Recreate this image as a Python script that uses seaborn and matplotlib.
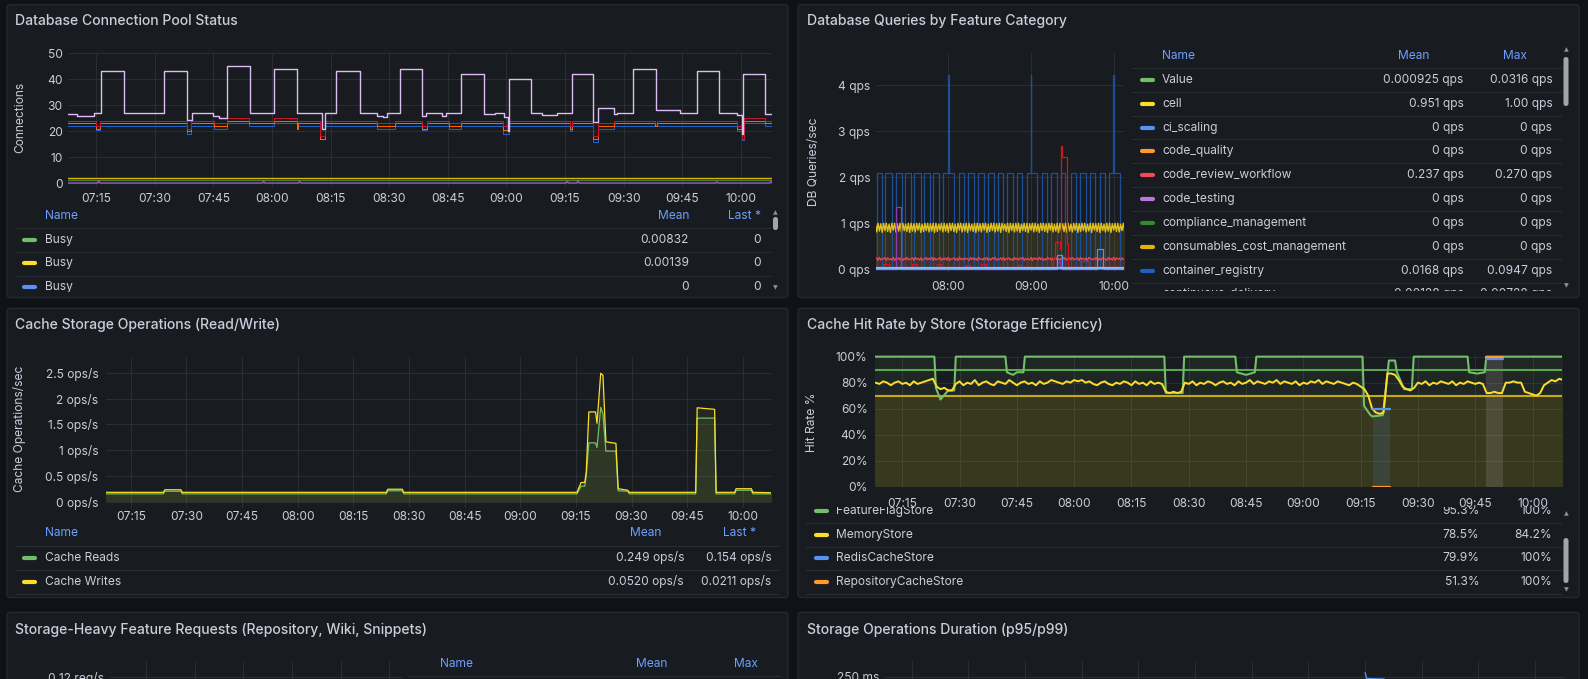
import matplotlib
matplotlib.use("Agg")
import matplotlib.pyplot as plt
import matplotlib.transforms as mtransforms
from matplotlib.patches import FancyBboxPatch
from matplotlib.lines import Line2D
from matplotlib.transforms import Bbox
import numpy as np
import seaborn as sns

W, H = 1588, 679

sns.set_theme(style="dark")
plt.rcParams['font.family'] = ['Inter', 'DejaVu Sans']

BG = "#111217"
PANEL = "#181b1f"
BORDER = "#26282d"
GRID_C = "#2a2d32"
TEXT_C = "#ccccdc"
HEAD_C = "#6e9fff"
SEP_C = "#2b2e33"
FS = 8.64
TITLE_FS = 10.1

# all times are minutes after 07:00
TICKS_15 = ["07:15", "07:30", "07:45", "08:00", "08:15", "08:30", "08:45",
            "09:00", "09:15", "09:30", "09:45", "10:00"]
TICKS_30 = ["07:30", "08:00", "08:30", "09:00", "09:30", "10:00"]
TICKS_60 = ["08:00", "09:00", "10:00"]

# ---- Database Connection Pool Status ----
pool_top_t = [7, 10, 14.5, 16.3, 22.2, 32.5, 38.3, 39.6, 45, 46.5, 48.5, 54.3, 60.5, 66.5, 72.9,
              73.5, 76.4, 82.5, 86.8, 88.5, 89.5, 92.7, 98.3, 99.5, 103.5, 104.5, 108.5, 114.4, 117,
              119.3, 120.3, 120.6, 126.4, 129, 133, 136.7, 142.1, 143.5, 147.5, 148.3, 152.3, 158.4,
              164.5, 168.7, 174.3, 179, 180.2, 180.6, 186.1, 189]
pool_top_v = [26.5, 26, 27, 43, 27, 43, 24.5, 27, 26, 25, 45, 27, 44, 27, 21,
              27, 43, 27, 26, 25.5, 27, 44, 26, 27, 26, 27, 42, 26.5, 27,
              25.5, 20, 40, 27, 26.3, 27, 42, 23.5, 29, 26.5, 27, 44, 28.3,
              27, 43, 27, 26.3, 19, 42, 26.5, 26.5]
pool_t = [7, 15.1, 16.1, 38.3, 39.3, 45.3, 48.5, 54.1, 60.5, 66.3, 66.7, 72.4, 73.7, 86.9, 91.6,
          98.3, 99.7, 105.3, 108.5, 119.1, 120.6, 136.2, 136.8, 142.1, 143.5, 147.5, 158.1, 158.6,
          179.1, 180.4, 180.8, 186.1, 189]
pool_red = [24, 22, 24, 21, 24, 23, 25, 24, 25, 24, 24, 18, 24, 23, 24,
            22, 24, 23, 24, 22, 24, 22, 24, 18, 23, 24, 23, 24,
            22, 17, 25, 24, 24]
pool_orange = [23, 21, 23, 20, 23, 22, 24, 23, 24, 21, 23, 17, 23, 22, 23,
               21, 23, 22, 23, 20.5, 23, 21, 23, 17, 22, 23, 22, 23,
               21, 17, 24, 23, 23]
pool_blue = [22, 20.5, 22, 19, 22, 21, 23, 22, 23, 21.5, 22, 17, 22, 21, 22,
             20.5, 22, 21, 22, 19, 22, 20, 22, 16, 21, 22, 22, 22,
             20, 16.5, 23, 22, 22]
pool_flat_t = [7, 189]
pool_yellow = [1.9, 1.9]
pool_green = [1.2, 1.2]
pool_zero_t = [7, 15.4, 15.7, 16.0, 57.6, 57.9, 58.2, 66.8, 67.1, 67.4, 135.3, 135.6, 135.9,
               138.0, 138.3, 138.6, 173.5, 173.8, 174.1, 187.4, 187.7, 188.0, 189]
pool_zero_v = [0.1, 0.1, 1.0, 0.1, 0.1, 0.8, 0.1, 0.1, 0.8, 0.1, 0.1, 0.8, 0.1,
               0.1, 0.9, 0.1, 0.1, 0.6, 0.1, 0.1, 0.8, 0.1, 0.1]
pool_names = ["Busy", "Busy", "Busy"]
pool_mean = ["0.00832", "0.00139", "0"]
pool_last = ["0", "0", "0"]
pool_colors = ["#73bf69", "#fade2a", "#5794f2"]

# ---- Database Queries by Feature Category ----
q_on = [7.9, 14.4, 21.7, 28.5, 35.3, 42.6, 49.1, 56.4, 67.8, 74.6, 81.8, 89.1, 95.9, 102.4,
        109.7, 117.0, 127.9, 134.4, 141.7, 149.0, 155.3, 163.0, 170.3, 176.4]
q_off = [12.0, 18.8, 26.1, 32.9, 39.9, 46.7, 53.2, 64.1, 71.4, 78.9, 86.2, 92.8, 100.0, 106.6,
         113.8, 124.3, 131.5, 138.8, 144.9, 152.9, 159.7, 166.7, 174.0, 184.9]
q_high = 2.1
q_spike_t = [60, 120, 180]
q_spike_v = [4.21, 4.21, 4.21]
# one sample per minute from 07:07
q_cell = [1.0, 0.81, 1.0, 0.83, 0.99, 0.8, 1.0, 0.84, 1.0, 0.82, 0.98, 0.8, 1.0, 0.85, 1.0, 0.81, 0.99, 0.83, 1.0, 0.8,
          1.0, 0.84, 0.98, 0.82, 1.0, 0.8, 1.0, 0.83, 0.99, 0.81, 1.0, 0.85, 1.0, 0.8, 0.98, 0.82, 1.0, 0.84, 1.0, 0.81,
          0.99, 0.83, 1.0, 0.8, 1.0, 0.82, 0.98, 0.85, 1.0, 0.81, 1.0, 0.83, 0.99, 0.8, 1.0, 0.84, 1.0, 0.82, 0.98, 0.8,
          1.0, 0.85, 1.0, 0.81, 0.99, 0.83, 1.0, 0.8, 1.0, 0.84, 0.98, 0.82, 1.0, 0.8, 1.0, 0.83, 0.99, 0.81, 1.0, 0.85,
          1.0, 0.8, 0.98, 0.82, 1.0, 0.84, 1.0, 0.81, 0.99, 0.83, 1.0, 0.8, 1.0, 0.85, 0.98, 0.82, 1.0, 0.8, 1.0, 0.84,
          0.99, 0.81, 1.0, 0.83, 1.0, 0.8, 0.98, 0.84, 1.0, 0.82, 1.0, 0.8, 0.99, 0.85, 1.0, 0.81, 1.0, 0.83, 0.98, 0.8,
          1.0, 0.84, 1.0, 0.82, 0.99, 0.8, 1.0, 0.85, 1.0, 0.81, 0.98, 0.83, 1.0, 0.8, 1.0, 0.84, 0.99, 0.82, 1.0, 0.8,
          1.0, 0.83, 0.98, 0.81, 1.0, 0.85, 1.0, 0.8, 0.99, 0.82, 1.0, 0.84, 1.0, 0.81, 0.98, 0.83, 1.0, 0.8, 1.0, 0.85,
          0.99, 0.82, 1.0, 0.8, 1.0, 0.84, 0.98, 0.81, 1.0, 0.83, 1.0, 0.8, 0.99, 0.85, 1.0, 0.82, 1.0, 0.81, 0.98, 0.84,
          1.0, 0.8, 1.0]
q_review = [0.21, 0.25, 0.19, 0.26, 0.2, 0.24, 0.22, 0.26, 0.19, 0.25, 0.21, 0.23, 0.2, 0.26, 0.19, 0.24, 0.22, 0.25, 0.2, 0.26,
            0.19, 0.24, 0.21, 0.26, 0.2, 0.23, 0.22, 0.25, 0.19, 0.26, 0.21, 0.24, 0.2, 0.25, 0.19, 0.23, 0.22, 0.26, 0.2, 0.24,
            0.21, 0.26, 0.19, 0.25, 0.2, 0.23, 0.22, 0.26, 0.19, 0.24, 0.21, 0.25, 0.2, 0.26, 0.19, 0.23, 0.22, 0.25, 0.2, 0.24,
            0.19, 0.26, 0.21, 0.24, 0.2, 0.25, 0.22, 0.23, 0.19, 0.26, 0.21, 0.25, 0.2, 0.24, 0.19, 0.26, 0.22, 0.23, 0.2, 0.25,
            0.21, 0.26, 0.19, 0.24, 0.2, 0.25, 0.22, 0.26, 0.19, 0.23, 0.21, 0.25, 0.2, 0.26, 0.19, 0.24, 0.22, 0.25, 0.2, 0.23,
            0.19, 0.26, 0.21, 0.24, 0.2, 0.25, 0.22, 0.26, 0.19, 0.24, 0.21, 0.23, 0.2, 0.26, 0.19, 0.25, 0.22, 0.24, 0.2, 0.26,
            0.21, 0.25, 0.19, 0.23, 0.2, 0.26, 0.22, 0.24, 0.19, 0.25, 0.21, 0.26, 0.2, 0.23, 0.19, 0.25, 0.22, 0.26, 0.2, 0.24,
            0.19, 0.25, 0.21, 0.26, 0.2, 0.23, 0.22, 0.25, 0.19, 0.26, 0.21, 0.24, 0.2, 0.25, 0.19, 0.26, 0.22, 0.23, 0.2, 0.25,
            0.21, 0.26, 0.19, 0.24, 0.2, 0.25, 0.22, 0.23, 0.19, 0.26, 0.21, 0.24, 0.2, 0.26, 0.19, 0.25, 0.22, 0.24, 0.2, 0.25,
            0.21, 0.24, 0.2]
q_dred_t = [7, 12.5, 17, 34, 37, 52, 55, 73, 76, 84, 87, 110, 113, 135.9, 137.1, 141.2, 141.7,
            142.4, 146.1, 146.6, 156.3, 161.8, 189]
q_dred_v = [0.03, 0.12, 0.03, 0.12, 0.03, 0.12, 0.03, 0.1, 0.03, 0.12, 0.03, 0.1, 0.03, 0.25, 0.6,
            0.45, 2.67, 2.43, 0.55, 0.05, 0.17, 0.05, 0.05]
q_purple_t = [7, 21.9, 25.3, 139, 141, 189]
q_purple_v = [0, 1.35, 0, 0.15, 0, 0]
q_lblue_t = [7, 138.8, 142.5, 167.9, 172, 189]
q_lblue_v = [0, 0.3, 0, 0.45, 0, 0]
q_base_t = [7, 189]
q_base_v = [0.03, 0.03]
q_names = ["Value", "cell", "ci_scaling", "code_quality", "code_review_workflow", "code_testing",
           "compliance_management", "consumables_cost_management", "container_registry",
           "continuous_delivery"]
q_mean = ["0.000925 qps", "0.951 qps", "0 qps", "0 qps", "0.237 qps", "0 qps", "0 qps", "0 qps",
          "0.0168 qps", "0.00128 qps"]
q_max = ["0.0316 qps", "1.00 qps", "0 qps", "0 qps", "0.270 qps", "0 qps", "0 qps", "0 qps",
         "0.0947 qps", "0.00728 qps"]
q_colors = ["#73bf69", "#fade2a", "#5794f2", "#ff9830", "#f2495c", "#b877d9", "#37872d",
            "#e0b400", "#1f60c4", "#c4162a"]

# ---- Cache Storage Operations ----
c_t = [7, 23.8, 24.2, 28.5, 28.9, 83.9, 84.3, 88.2, 88.6, 135.3, 136.4, 137.4, 137.8, 138.5, 140.3,
       140.7, 141.7, 142.3, 143.1, 145.8, 146.4, 149.0, 149.4, 167.3, 167.7, 172.4, 172.8, 177.8,
       178.2, 182.3, 182.7, 189]
c_writes = [0.18, 0.18, 0.23, 0.23, 0.18, 0.18, 0.24, 0.24, 0.18, 0.18, 0.37, 0.37, 0.58, 1.74, 1.74,
            1.52, 2.49, 2.45, 1.16, 1.13, 0.25, 0.22, 0.18, 0.18, 1.82, 1.79, 0.18, 0.18,
            0.25, 0.25, 0.18, 0.17]
c_reads = [0.15, 0.15, 0.2, 0.2, 0.15, 0.15, 0.21, 0.21, 0.15, 0.15, 0.3, 0.3, 0.5, 1.14, 1.14,
           1.05, 1.83, 1.7, 0.98, 0.98, 0.21, 0.2, 0.15, 0.15, 1.62, 1.62, 0.15, 0.15,
           0.22, 0.22, 0.15, 0.15]
c_names = ["Cache Reads", "Cache Writes"]
c_mean = ["0.249 ops/s", "0.0520 ops/s"]
c_last = ["0.154 ops/s", "0.0211 ops/s"]
c_colors = ["#73bf69", "#fade2a"]

# ---- Cache Hit Rate by Store ----
ff_t = [7, 23.4, 23.8, 25, 27, 28.6, 29.0, 42.0, 42.4, 44, 45, 46.7, 47.1, 83.6, 84.0, 88.4, 88.8,
        102.2, 102.6, 105, 107.3, 107.7, 135.5, 135.9, 137.6, 138.1, 140.8, 141.6, 142.4, 144.0,
        144.5, 146.4, 148.4, 148.9, 163.0, 163.4, 165.5, 167.5, 167.9, 189]
ff_v = [100, 100, 76, 67, 74, 74, 100, 100, 88, 86, 88, 88, 100, 100, 72, 72, 100,
        100, 88, 86, 88, 100, 100, 62, 55, 54, 55, 75, 97, 97,
        88, 75, 75, 100, 100, 88, 87, 88, 100, 100]
hit_flat_t = [7, 189]
hit_green2 = [90, 90]
hit_yellow2 = [70, 70]
# MemoryStore, one sample per minute from 07:08
mem_v = ([80, 79, 81, 80, 78, 80, 81, 79, 80, 78, 81, 79, 80, 81, 82]
         + [83]
         + [77, 75, 76, 74, 74]
         + [79, 81, 78, 80, 79, 82, 78, 80, 81, 79, 78, 81, 80, 79, 82, 80, 78, 80, 81, 79,
            80, 78, 81, 79, 80, 82, 81, 80, 79, 81, 80]
         + [82, 81, 82, 80, 81]
         + [79, 78, 80, 81, 79, 78, 80, 79, 81, 80, 78, 81, 79, 80, 78, 81, 79, 80, 79]
         + [73, 72, 73, 72, 73]
         + [80, 79, 81, 78, 80, 79, 81, 80, 78, 80, 81, 79, 80, 78, 81, 79, 80, 82, 79, 81,
            80, 79, 81, 80, 82, 79, 81, 80, 79, 81, 78, 80, 79, 81, 80, 82, 79, 81, 80, 79,
            81, 80, 79, 78, 80, 79, 77]
         + [75, 70, 60, 57, 56, 57, 87, 87, 86, 82, 77, 75, 74, 76, 80]
         + [79, 81, 78, 80, 79, 81, 80, 79, 81, 78, 80, 79, 81, 80, 79, 80, 79]
         + [72, 72, 73, 72, 72]
         + [80, 80, 81, 80, 80]
         + [73, 72, 71, 70, 72]
         + [78, 80, 82, 81, 83, 82])
redis_t = [[138.3, 142.7], [167.7, 172.3]]
redis_v = [[60, 60], [98, 98]]
repo_t = [[138.3, 142.7], [167.7, 172.3]]
repo_v = [[0, 0], [100, 100]]
hit_names = ["FeatureFlagStore", "MemoryStore", "RedisCacheStore", "RepositoryCacheStore"]
hit_mean = ["95.3%", "78.5%", "79.9%", "51.3%"]
hit_max = ["100%", "84.2%", "100%", "100%"]
hit_colors = ["#73bf69", "#fade2a", "#5794f2", "#ff9830"]

# ---- bottom panels (only their tops are visible) ----
dur_t = [135.0, 135.4, 140.0]
dur_v = [258, 247, 246]


def to_min(s):
    h, m = s.split(":")
    return int(h) * 60 + int(m) - 420


fig = plt.figure(figsize=(W / 100, H / 100), dpi=100, facecolor=BG)
pix = mtransforms.Affine2D().scale(1 / W, -1 / H).translate(0, 1) + fig.transFigure


def box(x0, y0, x1, y1, fc, ec="none", r=3, z=-2, lw=1.0):
    p = FancyBboxPatch((x0, y0), x1 - x0, y1 - y0, boxstyle=f"round,pad=0,rounding_size={r}",
                       transform=pix, fc=fc, ec=ec, lw=lw, zorder=z)
    fig.add_artist(p)


def txt(x, y, s, size=FS, color=TEXT_C, ha="left", va="center", clip=None, **kw):
    t = fig.text(x, y, s, transform=pix, fontsize=size, color=color, ha=ha, va=va, **kw)
    if clip is not None:
        t.set_clip_box(Bbox.from_extents(clip[0], H - clip[3], clip[2], H - clip[1]))
        t.set_clip_on(True)
    return t


def hline(x0, x1, y, color=SEP_C, lw=0.75):
    fig.add_artist(Line2D([x0, x1], [y, y], transform=pix, color=color, lw=lw, zorder=1))


def icon(x0, y, color):
    fig.add_artist(Line2D([x0 + 1, x0 + 12], [y, y], transform=pix, color=color, lw=3.0,
                          solid_capstyle="round", zorder=3))


def scrollbar(x, y0, y1, t0, t1):
    txt(x, y0, "\u25b2", size=4.5, color="#8e8e94", ha="center", family="DejaVu Sans")
    txt(x, y1, "\u25bc", size=4.5, color="#8e8e94", ha="center", family="DejaVu Sans")
    box(x - 2.5, t0, x + 2.5, t1, "#a4a5aa", r=2.5, z=2)


def add_ax(x0, y0, x1, y1):
    return fig.add_axes([x0 / W, 1 - y1 / H, (x1 - x0) / W, (y1 - y0) / H])


def style(ax, xlim, ylim, xlabels, yticks, ylabels, xpad, ypad=4):
    ax.set_facecolor("none")
    ax.set_xlim(xlim)
    ax.set_ylim(ylim)
    ax.set_xticks([to_min(s) for s in xlabels], xlabels)
    ax.set_yticks(yticks, ylabels)
    ax.tick_params(length=0, labelsize=FS, colors=TEXT_C)
    ax.tick_params(axis="x", pad=xpad)
    ax.tick_params(axis="y", pad=ypad)
    ax.grid(True, color=GRID_C, lw=0.75)
    ax.set_axisbelow(True)
    for s in ax.spines.values():
        s.set_visible(False)
    ax.set_xlabel("")
    ax.set_ylabel("")


def line(ax, t, v, color, lw=0.75, steps=False, z=2, alpha=1.0):
    sns.lineplot(x=list(t), y=list(v), ax=ax, color=color, lw=lw, estimator=None, sort=False,
                 drawstyle="steps-post" if steps else "default", legend=False, zorder=z,
                 alpha=alpha)


# panels
box(7, 4.7, 788, 297.5, PANEL, BORDER)
box(798, 4.7, 1579, 297.5, PANEL, BORDER)
box(7, 308.3, 788, 597.5, PANEL, BORDER)
box(798, 308.3, 1579, 597.5, PANEL, BORDER)
box(7, 612.3, 788, 700, PANEL, BORDER)
box(798, 612.3, 1579, 700, PANEL, BORDER)

txt(15, 20.7, "Database Connection Pool Status", size=TITLE_FS, fontweight="medium")
txt(807, 20.7, "Database Queries by Feature Category", size=TITLE_FS, fontweight="medium")
txt(15, 325, "Cache Storage Operations (Read/Write)", size=TITLE_FS, fontweight="medium")
txt(807, 325, "Cache Hit Rate by Store (Storage Efficiency)", size=TITLE_FS, fontweight="medium")
txt(15, 630, "Storage-Heavy Feature Requests (Repository, Wiki, Snippets)", size=TITLE_FS,
    fontweight="medium")
txt(807, 630, "Storage Operations Duration (p95/p99)", size=TITLE_FS, fontweight="medium")

# ---------- panel 1 ----------
ax1 = add_ax(68.3, 53.3, 771.7, 187.2)
line(ax1, pool_t, pool_blue, "#1f60c4", steps=True)
line(ax1, pool_t, pool_orange, "#fa6400", steps=True)
line(ax1, pool_t, pool_red, "#c4162a", steps=True)
line(ax1, pool_top_t, pool_top_v, "#dcbdf5", lw=1.0, steps=True)
line(ax1, pool_flat_t, pool_yellow, "#e0b400", lw=1.0)
line(ax1, pool_flat_t, pool_green, "#37872d", lw=1.0)
line(ax1, pool_zero_t, pool_zero_v, "#a352cc", lw=1.0)
style(ax1, (7.9, 187.9), (-1.5, 50), TICKS_15, [0, 10, 20, 30, 40, 50],
      ["0", "10", "20", "30", "40", "50"], xpad=4)
txt(20.7, 117.5, "Connections", rotation=90, ha="center")

txt(45, 215.7, "Name", color=HEAD_C)
txt(689, 215.7, "Mean", color=HEAD_C, ha="right")
txt(761, 215.7, "Last *", color=HEAD_C, ha="right")
clip1 = (10, 205, 780, 291.5)
for i, y in enumerate([239.7, 263.3, 287.0]):
    icon(23, y, pool_colors[i])
    txt(45, y, pool_names[i], clip=clip1)
    txt(689, y, pool_mean[i], ha="right", clip=clip1)
    txt(761, y, pool_last[i], ha="right", clip=clip1)
for y in [228.3, 252.3, 275.7]:
    hline(15, 770, y)
scrollbar(775.5, 213, 288, 217, 230)

# ---------- panel 2 ----------
ax2 = add_ax(875.7, 53.3, 1124.3, 271.6)
bx, by = [7], [0]
for on, off in zip(q_on, q_off):
    bx += [on, on]
    by += [0, q_high]
    for st, sv in zip(q_spike_t, q_spike_v):
        if on < st < off:
            bx += [st - 0.3, st - 0.3, st + 0.3, st + 0.3]
            by += [q_high, sv, sv, q_high]
    bx += [off, off]
    by += [q_high, 0]
bx.append(189)
by.append(0)
cell_t = 7 + np.arange(len(q_cell))
review_t = 7 + np.arange(len(q_review))
ax2.fill_between(cell_t, 0, q_cell, color="#e0be1a", alpha=0.12, lw=0)
ax2.fill_between(review_t, 0, q_review, color="#f2495c", alpha=0.12, lw=0)
line(ax2, bx, by, "#1d4f96", lw=0.9, z=2)
line(ax2, cell_t, q_cell, "#e3c11c", lw=1.0, z=3)
line(ax2, review_t, q_review, "#e6475a", lw=0.9, z=3)
line(ax2, q_dred_t, q_dred_v, "#d4161c", lw=0.9, steps=True, z=4)
line(ax2, q_purple_t, q_purple_v, "#8f3bb8", lw=0.9, steps=True, z=4)
line(ax2, q_lblue_t, q_lblue_v, "#5794f2", lw=0.9, steps=True, z=4)
line(ax2, q_base_t, q_base_v, "#8ab8ff", lw=1.6, z=5)
style(ax2, (7.3, 187.7), (-0.05, 4.69), TICKS_60, [0, 1, 2, 3, 4],
      ["0 qps", "1 qps", "2 qps", "3 qps", "4 qps"], xpad=7)
txt(814.3, 161.7, "DB Queries/sec", rotation=90, ha="center")

txt(1162, 55.7, "Name", color=HEAD_C)
txt(1429, 55.7, "Mean", color=HEAD_C, ha="right")
txt(1526.7, 55.7, "Max", color=HEAD_C, ha="right")
clip2 = (1130, 45, 1575, 290.5)
for i, y in enumerate([80, 103.7, 127.7, 151, 174.7, 198.7, 222.7, 246.7, 270.7, 294.2]):
    if y < 290:
        icon(1141, y, q_colors[i])
    txt(1162, y, q_names[i], clip=clip2)
    txt(1463.7, y, q_mean[i], ha="right", clip=clip2)
    txt(1552.3, y, q_max[i], ha="right", clip=clip2)
for y in [68.3, 92.3, 116.3, 139.3, 163.3, 187.3, 211.3, 235.3, 259.3, 282.7]:
    hline(1131.7, 1561, y)
scrollbar(1566, 50, 286, 57, 106)

# ---------- panel 3 ----------
ax3 = add_ax(105.5, 357.3, 771, 508.3)
ax3.fill_between(c_t, 0, c_writes, color="#fade2a", alpha=0.07, lw=0)
ax3.fill_between(c_t, 0, c_reads, color="#73bf69", alpha=0.1, lw=0)
line(ax3, c_t, c_reads, c_colors[0], lw=0.9)
line(ax3, c_t, c_writes, c_colors[1], lw=0.9)
style(ax3, (8.2, 187.6), (-0.13, 2.8), TICKS_15, [0, 0.5, 1, 1.5, 2, 2.5],
      ["0 ops/s", "0.5 ops/s", "1 ops/s", "1.5 ops/s", "2 ops/s", "2.5 ops/s"], xpad=2, ypad=5)
txt(20, 429, "Cache Operations/sec", rotation=90, ha="center")

txt(45, 533, "Name", color=HEAD_C)
txt(661.7, 533, "Mean", color=HEAD_C, ha="right")
txt(756, 533, "Last *", color=HEAD_C, ha="right")
for i, y in enumerate([557.7, 581.7]):
    icon(23, y, c_colors[i])
    txt(45, y, c_names[i])
    txt(684, y, c_mean[i], ha="right")
    txt(771.6, y, c_last[i], ha="right")
for y in [546, 570, 594]:
    hline(15, 778, y)

# ---------- panel 4 ----------
ax4 = add_ax(874.6, 354.7, 1562.3, 487.3)
mem_t = 8 + np.arange(len(mem_v))
ax4.fill_between(ff_t, 0, ff_v, color="#73bf69", alpha=0.08, lw=0)
ax4.fill_between(hit_flat_t, 0, hit_yellow2, color="#e0b400", alpha=0.13, lw=0)
for t, v in zip(redis_t, redis_v):
    ax4.fill_between(t, 0, v, color="#5794f2", alpha=0.12, lw=0)
for t, v in zip(repo_t, repo_v):
    ax4.fill_between(t, 0, v, color="#ff9830", alpha=0.1, lw=0)
line(ax4, hit_flat_t, hit_green2, "#5aa64f", lw=1.5)
line(ax4, hit_flat_t, hit_yellow2, "#c8a815", lw=1.5)
line(ax4, ff_t, ff_v, hit_colors[0], lw=1.5, z=3)
line(ax4, mem_t, mem_v, hit_colors[1], lw=1.4, z=4)
for t, v in zip(redis_t, redis_v):
    line(ax4, t, v, hit_colors[2], lw=1.6, z=5)
for t, v in zip(repo_t, repo_v):
    line(ax4, t, v, hit_colors[3], lw=1.6, z=6)
style(ax4, (7.75, 187.8), (-0.5, 101.5), TICKS_15, [0, 20, 40, 60, 80, 100],
      ["0%", "20%", "40%", "60%", "80%", "100%"], xpad=8, ypad=5)
txt(811.6, 422, "Hit Rate %", rotation=90, ha="center")

clip4 = (800, 506.5, 1575, 594)
for i, y in enumerate([510.7, 535, 557.7, 581.7]):
    icon(815, y, hit_colors[i])
    txt(836.2, y, hit_names[i], clip=clip4)
    txt(1479.3, y, hit_mean[i], ha="right", clip=clip4)
    txt(1552, y, hit_max[i], ha="right", clip=clip4)
for y in [523.3, 546.7, 570, 594]:
    hline(806, 1560.7, y)
scrollbar(1566, 514, 590, 538, 583)

# ---------- panel 5 ----------
ax5 = add_ax(110, 661, 402, 773)
style(ax5, (7.9, 187.9), (0, 0.14), TICKS_30, [0.12], ["0.12 req/s"], xpad=4, ypad=4)
ax5.set_xticklabels([""] * len(TICKS_30))
txt(440, 664, "Name", color=HEAD_C)
txt(667, 664, "Mean", color=HEAD_C, ha="right")
txt(758, 664, "Max", color=HEAD_C, ha="right")
hline(408, 780, 676)

# ---------- panel 6 ----------
ax6 = add_ax(885, 661, 1565, 810)
line(ax6, dur_t, dur_v, "#5794f2", lw=1.0)
style(ax6, (7.9, 187.9), (0, 280), TICKS_15, [250], ["250 ms"], xpad=4, ypad=4)
ax6.set_xticklabels([""] * len(TICKS_15))

fig.savefig("out.png", dpi=100, facecolor=BG)
